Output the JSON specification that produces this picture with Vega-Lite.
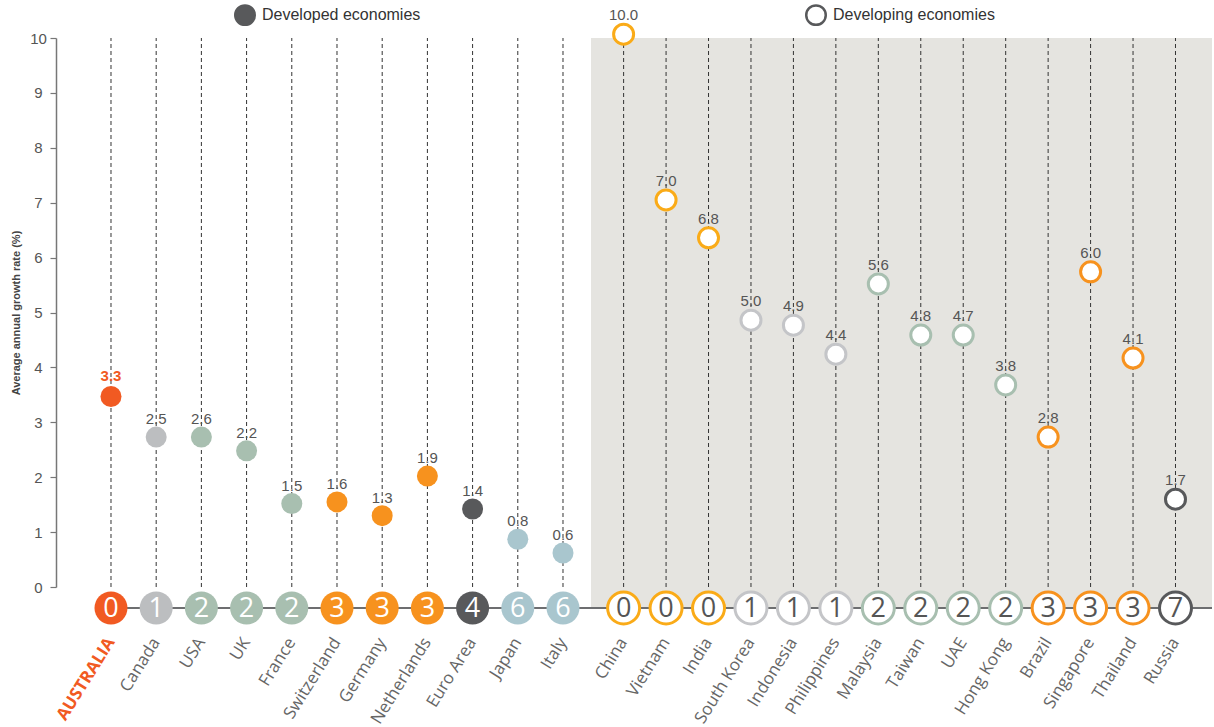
{
  "$schema": "https://vega.github.io/schema/vega-lite/v6.json",
  "autosize": {"type": "pad"},
  "padding": {"left": 10, "top": 4, "right": 2, "bottom": 0},
  "background": "white",
  "config": {"view": {"stroke": null}},
  "datasets": {
    "countries": [
      {"country": "AUSTRALIA", "group": "Developed", "rank": 0, "label": "3.3", "pos": 3.47},
      {"country": "Canada", "group": "Developed", "rank": 1, "label": "2.5", "pos": 2.73},
      {"country": "USA", "group": "Developed", "rank": 2, "label": "2.6", "pos": 2.73},
      {"country": "UK", "group": "Developed", "rank": 2, "label": "2.2", "pos": 2.48},
      {"country": "France", "group": "Developed", "rank": 2, "label": "1.5", "pos": 1.52},
      {"country": "Switzerland", "group": "Developed", "rank": 3, "label": "1.6", "pos": 1.55},
      {"country": "Germany", "group": "Developed", "rank": 3, "label": "1.3", "pos": 1.3},
      {"country": "Netherlands", "group": "Developed", "rank": 3, "label": "1.9", "pos": 2.02},
      {"country": "Euro Area", "group": "Developed", "rank": 4, "label": "1.4", "pos": 1.42},
      {"country": "Japan", "group": "Developed", "rank": 6, "label": "0.8", "pos": 0.87},
      {"country": "Italy", "group": "Developed", "rank": 6, "label": "0.6", "pos": 0.62},
      {"country": "China", "group": "Developing", "rank": 0, "label": "10.0", "pos": 10.07},
      {"country": "Vietnam", "group": "Developing", "rank": 0, "label": "7.0", "pos": 7.05},
      {"country": "India", "group": "Developing", "rank": 0, "label": "6.8", "pos": 6.36},
      {"country": "South Korea", "group": "Developing", "rank": 1, "label": "5.0", "pos": 4.86},
      {"country": "Indonesia", "group": "Developing", "rank": 1, "label": "4.9", "pos": 4.77},
      {"country": "Philippines", "group": "Developing", "rank": 1, "label": "4.4", "pos": 4.24},
      {"country": "Malaysia", "group": "Developing", "rank": 2, "label": "5.6", "pos": 5.52},
      {"country": "Taiwan", "group": "Developing", "rank": 2, "label": "4.8", "pos": 4.59},
      {"country": "UAE", "group": "Developing", "rank": 2, "label": "4.7", "pos": 4.59},
      {"country": "Hong Kong", "group": "Developing", "rank": 2, "label": "3.8", "pos": 3.68},
      {"country": "Brazil", "group": "Developing", "rank": 3, "label": "2.8", "pos": 2.73},
      {"country": "Singapore", "group": "Developing", "rank": 3, "label": "6.0", "pos": 5.74},
      {"country": "Thailand", "group": "Developing", "rank": 3, "label": "4.1", "pos": 4.17},
      {"country": "Russia", "group": "Developing", "rank": 7, "label": "1.7", "pos": 1.6}
    ],
    "legend": [
      {"econ": "Developed economies"},
      {"econ": "Developing economies"}
    ]
  },
  "columns": 2,
  "spacing": 0,
  "bounds": "flush",
  "resolve": {"scale": {"x": "independent", "y": "independent", "fill": "independent", "color": "independent", "stroke": "independent"}},
  "concat": [
    {
      "width": 535,
      "height": 549,
      "layer": [
        {
          "data": {"name": "countries"},
          "transform": [{"filter": "datum.group == 'Developed'"}],
          "mark": {"type": "rule", "strokeDash": [4, 3], "color": "#333333", "strokeWidth": 1},
          "encoding": {
            "x": {"field": "country", "type": "nominal", "axis": null,
                  "scale": {"type": "band", "domain": ["AUSTRALIA", "Canada", "USA", "UK", "France", "Switzerland", "Germany", "Netherlands", "Euro Area", "Japan", "Italy"], "paddingInner": 0, "paddingOuter": 0.418, "align": 0.857}},
            "y": {"datum": 0, "type": "quantitative",
                  "scale": {"domain": [0, 10], "nice": false, "zero": false},
                  "axis": {"title": "Average annual growth rate (%)", "titleFont": "Liberation Sans", "titleFontSize": 11, "titleFontWeight": "bold", "titleColor": "#444444", "titlePadding": 8,
                           "values": [0, 1, 2, 3, 4, 5, 6, 7, 8, 9, 10], "grid": false, "domainColor": "#777777", "domainWidth": 1.5,
                           "tickColor": "#777777", "tickSize": 6, "tickWidth": 1.2, "labelFont": "Liberation Sans", "labelFontSize": 15, "labelColor": "#555555",
                           "labelAlign": "center", "labelPadding": 12}},
            "y2": {"datum": 10}
          }
        },
        {
          "data": {"name": "countries"},
          "transform": [{"filter": "datum.group == 'Developed'"}],
          "mark": {"type": "point", "filled": true, "shape": "circle", "size": 441, "opacity": 1},
          "encoding": {
            "x": {"field": "country", "type": "nominal"},
            "y": {"field": "pos", "type": "quantitative"},
            "color": {"field": "rank", "type": "nominal", "legend": null,
                      "scale": {"domain": [0, 1, 2, 3, 4, 6], "range": ["#F15A22", "#BCBEC0", "#A8BFB0", "#F7921E", "#58595B", "#A9C6CE"]}}
          }
        },
        {
          "data": {"name": "countries"},
          "transform": [{"filter": "datum.group == 'Developed' && datum.country != 'AUSTRALIA'"}],
          "mark": {"type": "text", "font": "Liberation Sans", "fontSize": 15, "baseline": "alphabetic", "align": "center", "dy": -13, "color": "#555555"},
          "encoding": {
            "x": {"field": "country", "type": "nominal"},
            "y": {"field": "pos", "type": "quantitative"},
            "text": {"field": "label"}
          }
        },
        {
          "data": {"name": "countries"},
          "transform": [{"filter": "datum.country == 'AUSTRALIA'"}],
          "mark": {"type": "text", "font": "Liberation Sans", "fontSize": 15, "fontWeight": "bold", "baseline": "alphabetic", "align": "center", "dy": -15, "color": "#F15A22"},
          "encoding": {
            "x": {"field": "country", "type": "nominal"},
            "y": {"field": "pos", "type": "quantitative"},
            "text": {"field": "label"}
          }
        },
        {
          "data": {"name": "legend"},
          "mark": {"type": "point", "filled": true, "opacity": 0},
          "encoding": {
            "fill": {"field": "econ", "type": "nominal",
                     "scale": {"domain": ["Developed economies", "Developing economies"], "range": ["#58595B", "#ffffff"]},
                     "legend": {"orient": "none", "legendX": 178, "legendY": -34, "direction": "horizontal", "title": null,
                                "symbolType": "circle", "symbolSize": 380, "symbolStrokeColor": "#58595B", "symbolStrokeWidth": 2.5, "symbolOpacity": 1,
                                "labelFont": "Liberation Sans", "labelFontSize": 16, "labelColor": "#333333", "labelOffset": 6,
                                "columnPadding": 380, "labelLimit": 400, "padding": 0}}
          }
        }
      ]
    },
    {
      "width": 621,
      "height": 549,
      "view": {"fill": "#E5E4E0", "stroke": null},
      "layer": [
        {
          "data": {"name": "countries"},
          "transform": [{"filter": "datum.group == 'Developing'"}],
          "mark": {"type": "rule", "strokeDash": [4, 3], "color": "#333333", "strokeWidth": 1},
          "encoding": {
            "x": {"field": "country", "type": "nominal", "axis": null,
                  "scale": {"type": "band", "domain": ["China", "Vietnam", "India", "South Korea", "Indonesia", "Philippines", "Malaysia", "Taiwan", "UAE", "Hong Kong", "Brazil", "Singapore", "Thailand", "Russia"], "paddingInner": 0, "paddingOuter": 0.314, "align": 0.427}},
            "y": {"datum": 0, "type": "quantitative", "scale": {"domain": [0, 10], "nice": false, "zero": false}, "axis": null},
            "y2": {"datum": 10}
          }
        },
        {
          "data": {"name": "countries"},
          "transform": [{"filter": "datum.group == 'Developing'"}],
          "mark": {"type": "point", "filled": false, "fill": "#ffffff", "shape": "circle", "size": 400, "strokeWidth": 3, "opacity": 1, "fillOpacity": 1},
          "encoding": {
            "x": {"field": "country", "type": "nominal"},
            "y": {"field": "pos", "type": "quantitative"},
            "stroke": {"field": "rank", "type": "nominal", "legend": null,
                       "scale": {"domain": [0, 1, 2, 3, 7], "range": ["#FAAB18", "#C4C5C8", "#A8BFB0", "#F7921E", "#58595B"]}}
          }
        },
        {
          "data": {"name": "countries"},
          "transform": [{"filter": "datum.group == 'Developing'"}],
          "mark": {"type": "text", "font": "Liberation Sans", "fontSize": 15, "baseline": "alphabetic", "align": "center", "dy": -14, "color": "#555555"},
          "encoding": {
            "x": {"field": "country", "type": "nominal"},
            "y": {"field": "pos", "type": "quantitative"},
            "text": {"field": "label"}
          }
        }
      ]
    },
    {
      "width": 535,
      "height": 42,
      "layer": [
        {
          "data": {"name": "countries"},
          "transform": [{"filter": "datum.group == 'Developed'"}],
          "mark": {"type": "rule", "color": "#6d6e70", "strokeWidth": 1.8},
          "encoding": {
            "x": {"datum": "AUSTRALIA", "type": "nominal",
                  "scale": {"type": "band", "domain": ["AUSTRALIA", "Canada", "USA", "UK", "France", "Switzerland", "Germany", "Netherlands", "Euro Area", "Japan", "Italy"], "paddingInner": 0, "paddingOuter": 0.418, "align": 0.857},
                  "axis": {"orient": "bottom", "title": null, "domain": false, "ticks": false, "labelAngle": -58, "labelFont": "Open Sans", "labelFontSize": 17, "labelPadding": 10,
                           "labelColor": {"condition": {"test": "datum.value == 'AUSTRALIA'", "value": "#F15A22"}, "value": "#666666"},
                           "labelFontWeight": {"condition": {"test": "datum.value == 'AUSTRALIA'", "value": "bold"}, "value": "normal"}}},
            "x2": {"value": "width"},
            "y": {"datum": 0, "type": "quantitative", "scale": {"domain": [-1, 1], "nice": false, "zero": false}, "axis": null}
          }
        },
        {
          "data": {"name": "countries"},
          "transform": [{"filter": "datum.group == 'Developed'"}],
          "mark": {"type": "point", "filled": true, "shape": "circle", "size": 1089, "opacity": 1},
          "encoding": {
            "x": {"field": "country", "type": "nominal"},
            "y": {"datum": 0, "type": "quantitative"},
            "color": {"field": "rank", "type": "nominal", "legend": null,
                      "scale": {"domain": [0, 1, 2, 3, 4, 6], "range": ["#F15A22", "#BCBEC0", "#A8BFB0", "#F7921E", "#58595B", "#A9C6CE"]}}
          }
        },
        {
          "data": {"name": "countries"},
          "transform": [{"filter": "datum.group == 'Developed'"}],
          "mark": {"type": "text", "font": "Open Sans", "fontSize": 27, "baseline": "middle", "align": "center", "dy": 1, "color": "#ffffff"},
          "encoding": {
            "x": {"field": "country", "type": "nominal"},
            "y": {"datum": 0, "type": "quantitative"},
            "text": {"field": "rank"}
          }
        }
      ]
    },
    {
      "width": 621,
      "height": 42,
      "layer": [
        {
          "data": {"name": "countries"},
          "transform": [{"filter": "datum.group == 'Developing'"}],
          "mark": {"type": "rect", "color": "#E5E4E0"},
          "encoding": {
            "y": {"datum": 1, "type": "quantitative", "scale": {"domain": [-1, 1], "nice": false, "zero": false}, "axis": null},
            "y2": {"datum": 0}
          }
        },
        {
          "data": {"name": "countries"},
          "transform": [{"filter": "datum.group == 'Developing'"}],
          "mark": {"type": "rule", "color": "#6d6e70", "strokeWidth": 1.8},
          "encoding": {
            "y": {"datum": 0, "type": "quantitative"}
          }
        },
        {
          "data": {"name": "countries"},
          "transform": [{"filter": "datum.group == 'Developing'"}],
          "mark": {"type": "point", "filled": false, "fill": "#ffffff", "shape": "circle", "size": 1024, "strokeWidth": 3, "opacity": 1, "fillOpacity": 1},
          "encoding": {
            "x": {"field": "country", "type": "nominal",
                  "scale": {"type": "band", "domain": ["China", "Vietnam", "India", "South Korea", "Indonesia", "Philippines", "Malaysia", "Taiwan", "UAE", "Hong Kong", "Brazil", "Singapore", "Thailand", "Russia"], "paddingInner": 0, "paddingOuter": 0.314, "align": 0.427},
                  "axis": {"orient": "bottom", "title": null, "domain": false, "ticks": false, "labelAngle": -58, "labelFont": "Open Sans", "labelFontSize": 17, "labelPadding": 10, "labelColor": "#666666"}},
            "y": {"datum": 0, "type": "quantitative"},
            "stroke": {"field": "rank", "type": "nominal", "legend": null,
                       "scale": {"domain": [0, 1, 2, 3, 7], "range": ["#FAAB18", "#C4C5C8", "#A8BFB0", "#F7921E", "#58595B"]}}
          }
        },
        {
          "data": {"name": "countries"},
          "transform": [{"filter": "datum.group == 'Developing'"}],
          "mark": {"type": "text", "font": "Open Sans", "fontSize": 27, "baseline": "middle", "align": "center", "dy": 1, "color": "#555555"},
          "encoding": {
            "x": {"field": "country", "type": "nominal"},
            "y": {"datum": 0, "type": "quantitative"},
            "text": {"field": "rank"}
          }
        }
      ]
    }
  ]
}
